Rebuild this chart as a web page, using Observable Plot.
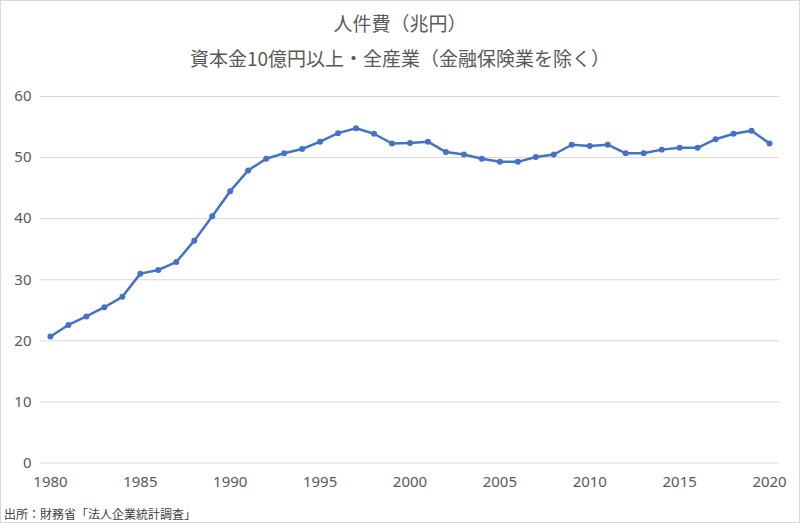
<!DOCTYPE html>
<html>
<head>
<meta charset="utf-8">
<script src="https://cdn.jsdelivr.net/npm/d3@7"></script>
<script src="https://cdn.jsdelivr.net/npm/@observablehq/plot@0.6"></script>
<style>
  html, body { margin: 0; padding: 0; background: #fff; }
  #wrap { position: relative; width: 800px; height: 523px; box-sizing: border-box; border: 1px solid #d9d9d9; overflow: hidden; font-family: "Noto Sans CJK JP", "Noto Sans", sans-serif; color: #595959; }
  #title { position: absolute; left: 0; right: 0; top: 8px; text-align: center; font-size: 19px; line-height: 28px; }
  #subtitle { position: absolute; left: 0; right: 0; top: 43px; text-align: center; font-size: 19px; line-height: 28px; }
  #chart { position: absolute; left: -1px; top: 79px; }
  #caption { position: absolute; left: 3px; top: 504px; font-size: 12px; line-height: 18px; color: #404040; }
</style>
</head>
<body>
<div id="wrap">
  <div id="title">人件費（兆円）</div>
  <div id="subtitle">資本金10億円以上・全産業（金融保険業を除く）</div>
  <div id="chart"></div>
  <div id="caption">出所：財務省「法人企業統計調査」</div>
</div>
<script>
const years = d3.range(1980, 2021);
const values = [
  20.7, 22.6, 24.0, 25.5, 27.2, 31.0, 31.6, 32.9, 36.4, 40.4,
  44.5, 47.9, 49.8, 50.7, 51.4, 52.6, 54.0, 54.8, 53.9, 52.3,
  52.4, 52.6, 50.9, 50.5, 49.8, 49.3, 49.3, 50.1, 50.5, 52.1,
  51.9, 52.1, 50.7, 50.7, 51.3, 51.6, 51.6, 53.0, 53.9, 54.4,
  52.3
];
const xTicks = [1980, 1985, 1990, 1995, 2000, 2005, 2010, 2015, 2020];
const yTicks = [0, 10, 20, 30, 40, 50, 60];

const data = years.map((y, i) => ({year: y, value: values[i]}));
const pad = 10 / 18;

const chart = Plot.plot({
  width: 800,
  height: 420,
  marginLeft: 40,
  marginRight: 20,
  marginTop: 16,
  marginBottom: 37,
  style: {fontFamily: "'Noto Sans', sans-serif", fontSize: "15px", color: "#595959", background: "transparent"},
  x: {domain: [1980 - pad, 2020 + pad], ticks: xTicks, tickFormat: "d", tickSize: 0, tickPadding: 13, label: null},
  y: {domain: [0, 60], ticks: yTicks, tickSize: 0, tickPadding: 9, label: null},
  marks: [
    Plot.gridY(yTicks, {stroke: "#d9d9d9", strokeOpacity: 1, strokeWidth: 1}),
    Plot.line(data, {x: "year", y: "value", stroke: "#4472C4", strokeWidth: 2.5}),
    Plot.dot(data, {x: "year", y: "value", fill: "#4472C4", r: 3})
  ]
});
document.getElementById("chart").appendChild(chart);
</script>
</body>
</html>
